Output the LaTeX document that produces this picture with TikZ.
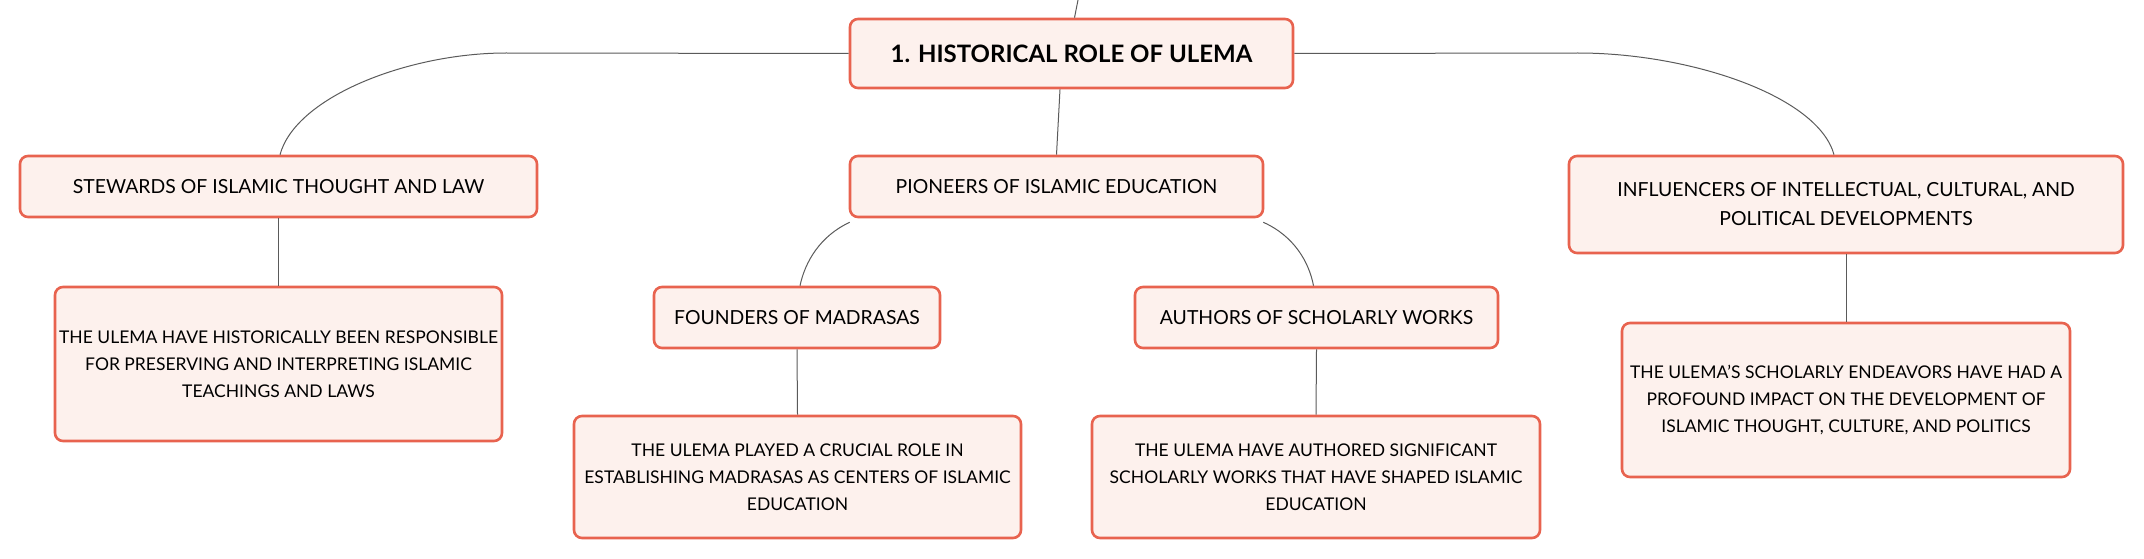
\documentclass[tikz,border=0pt]{standalone}
\usepackage{fontspec}
\setmainfont{Lato}
\definecolor{boxborder}{HTML}{E8634F}
\definecolor{boxfill}{HTML}{FDF1ED}
\definecolor{conn}{HTML}{5A5A5A}
\begin{document}
\begin{tikzpicture}[x=1pt,y=-1pt,
  box/.style={draw=boxborder,fill=boxfill,line width=2.6pt,rounded corners=8pt,
    align=center,inner sep=0pt,font=\fontsize{19.4}{29}\selectfont,text=black},
  descbox/.style={box,font=\fontsize{17.5}{27}\selectfont},
  rootbox/.style={box,font=\fontsize{24}{30}\selectfont\bfseries},
  link/.style={draw=conn,line width=1pt}]
\useasboundingbox (0,0) rectangle (2144,559);
\node[rootbox,minimum width=443pt,minimum height=69pt] (root) at (1071.5,53.5) {1. HISTORICAL ROLE OF ULEMA};
\node[box,minimum width=517pt,minimum height=61pt] (stew) at (278.5,186.5) {STEWARDS OF ISLAMIC THOUGHT AND LAW};
\node[box,minimum width=413pt,minimum height=61pt] (pion) at (1056.5,186.5) {PIONEERS OF ISLAMIC EDUCATION};
\node[box,minimum width=554pt,minimum height=97pt] (infl) at (1846,204.5) {INFLUENCERS OF INTELLECTUAL, CULTURAL, AND\\POLITICAL DEVELOPMENTS};
\node[descbox,minimum width=447pt,minimum height=154pt] (stewd) at (278.5,364) {THE ULEMA HAVE HISTORICALLY BEEN RESPONSIBLE\\FOR PRESERVING AND INTERPRETING ISLAMIC\\TEACHINGS AND LAWS};
\node[box,minimum width=286pt,minimum height=61pt] (found) at (797,317.5) {FOUNDERS OF MADRASAS};
\node[box,minimum width=363pt,minimum height=61pt] (auth) at (1316.5,317.5) {AUTHORS OF SCHOLARLY WORKS};
\node[descbox,minimum width=447pt,minimum height=122pt] (foundd) at (797.5,477) {THE ULEMA PLAYED A CRUCIAL ROLE IN\\ESTABLISHING MADRASAS AS CENTERS OF ISLAMIC\\EDUCATION};
\node[descbox,minimum width=448pt,minimum height=122pt] (authd) at (1316,477) {THE ULEMA HAVE AUTHORED SIGNIFICANT\\SCHOLARLY WORKS THAT HAVE SHAPED ISLAMIC\\EDUCATION};
\node[descbox,minimum width=448pt,minimum height=154pt] (infld) at (1846,400) {THE ULEMA'S SCHOLARLY ENDEAVORS HAVE HAD A\\PROFOUND IMPACT ON THE DEVELOPMENT OF\\ISLAMIC THOUGHT, CULTURE, AND POLITICS};
% connectors
\coordinate (topend) at (1078,0);
\draw[link] (topend) -- ([xshift=3pt]root.north);
\draw[link] (root.west) -- (506,53) .. controls (410,53) and (296,96) .. ([xshift=1.5pt]stew.north);
\draw[link] (root.east) -- (1578,53) .. controls (1690,53) and (1818,96) .. ([xshift=-12pt]infl.north);
\draw[link] ([xshift=-11.5pt]root.south) -- (pion.north);
\draw[link] ([xshift=1pt,yshift=-4pt]pion.south west) .. controls (820,236) and (805,262) .. ([xshift=3pt]found.north);
\draw[link] ([xshift=-1pt,yshift=-4pt]pion.south east) .. controls (1294,236) and (1309,262) .. ([xshift=-3pt]auth.north);
\draw[link] (stew.south) -- (stewd.north);
\draw[link] (found.south) -- (foundd.north);
\draw[link] (auth.south) -- (authd.north);
\draw[link] (infl.south) -- (infld.north);
\end{tikzpicture}
\end{document}
